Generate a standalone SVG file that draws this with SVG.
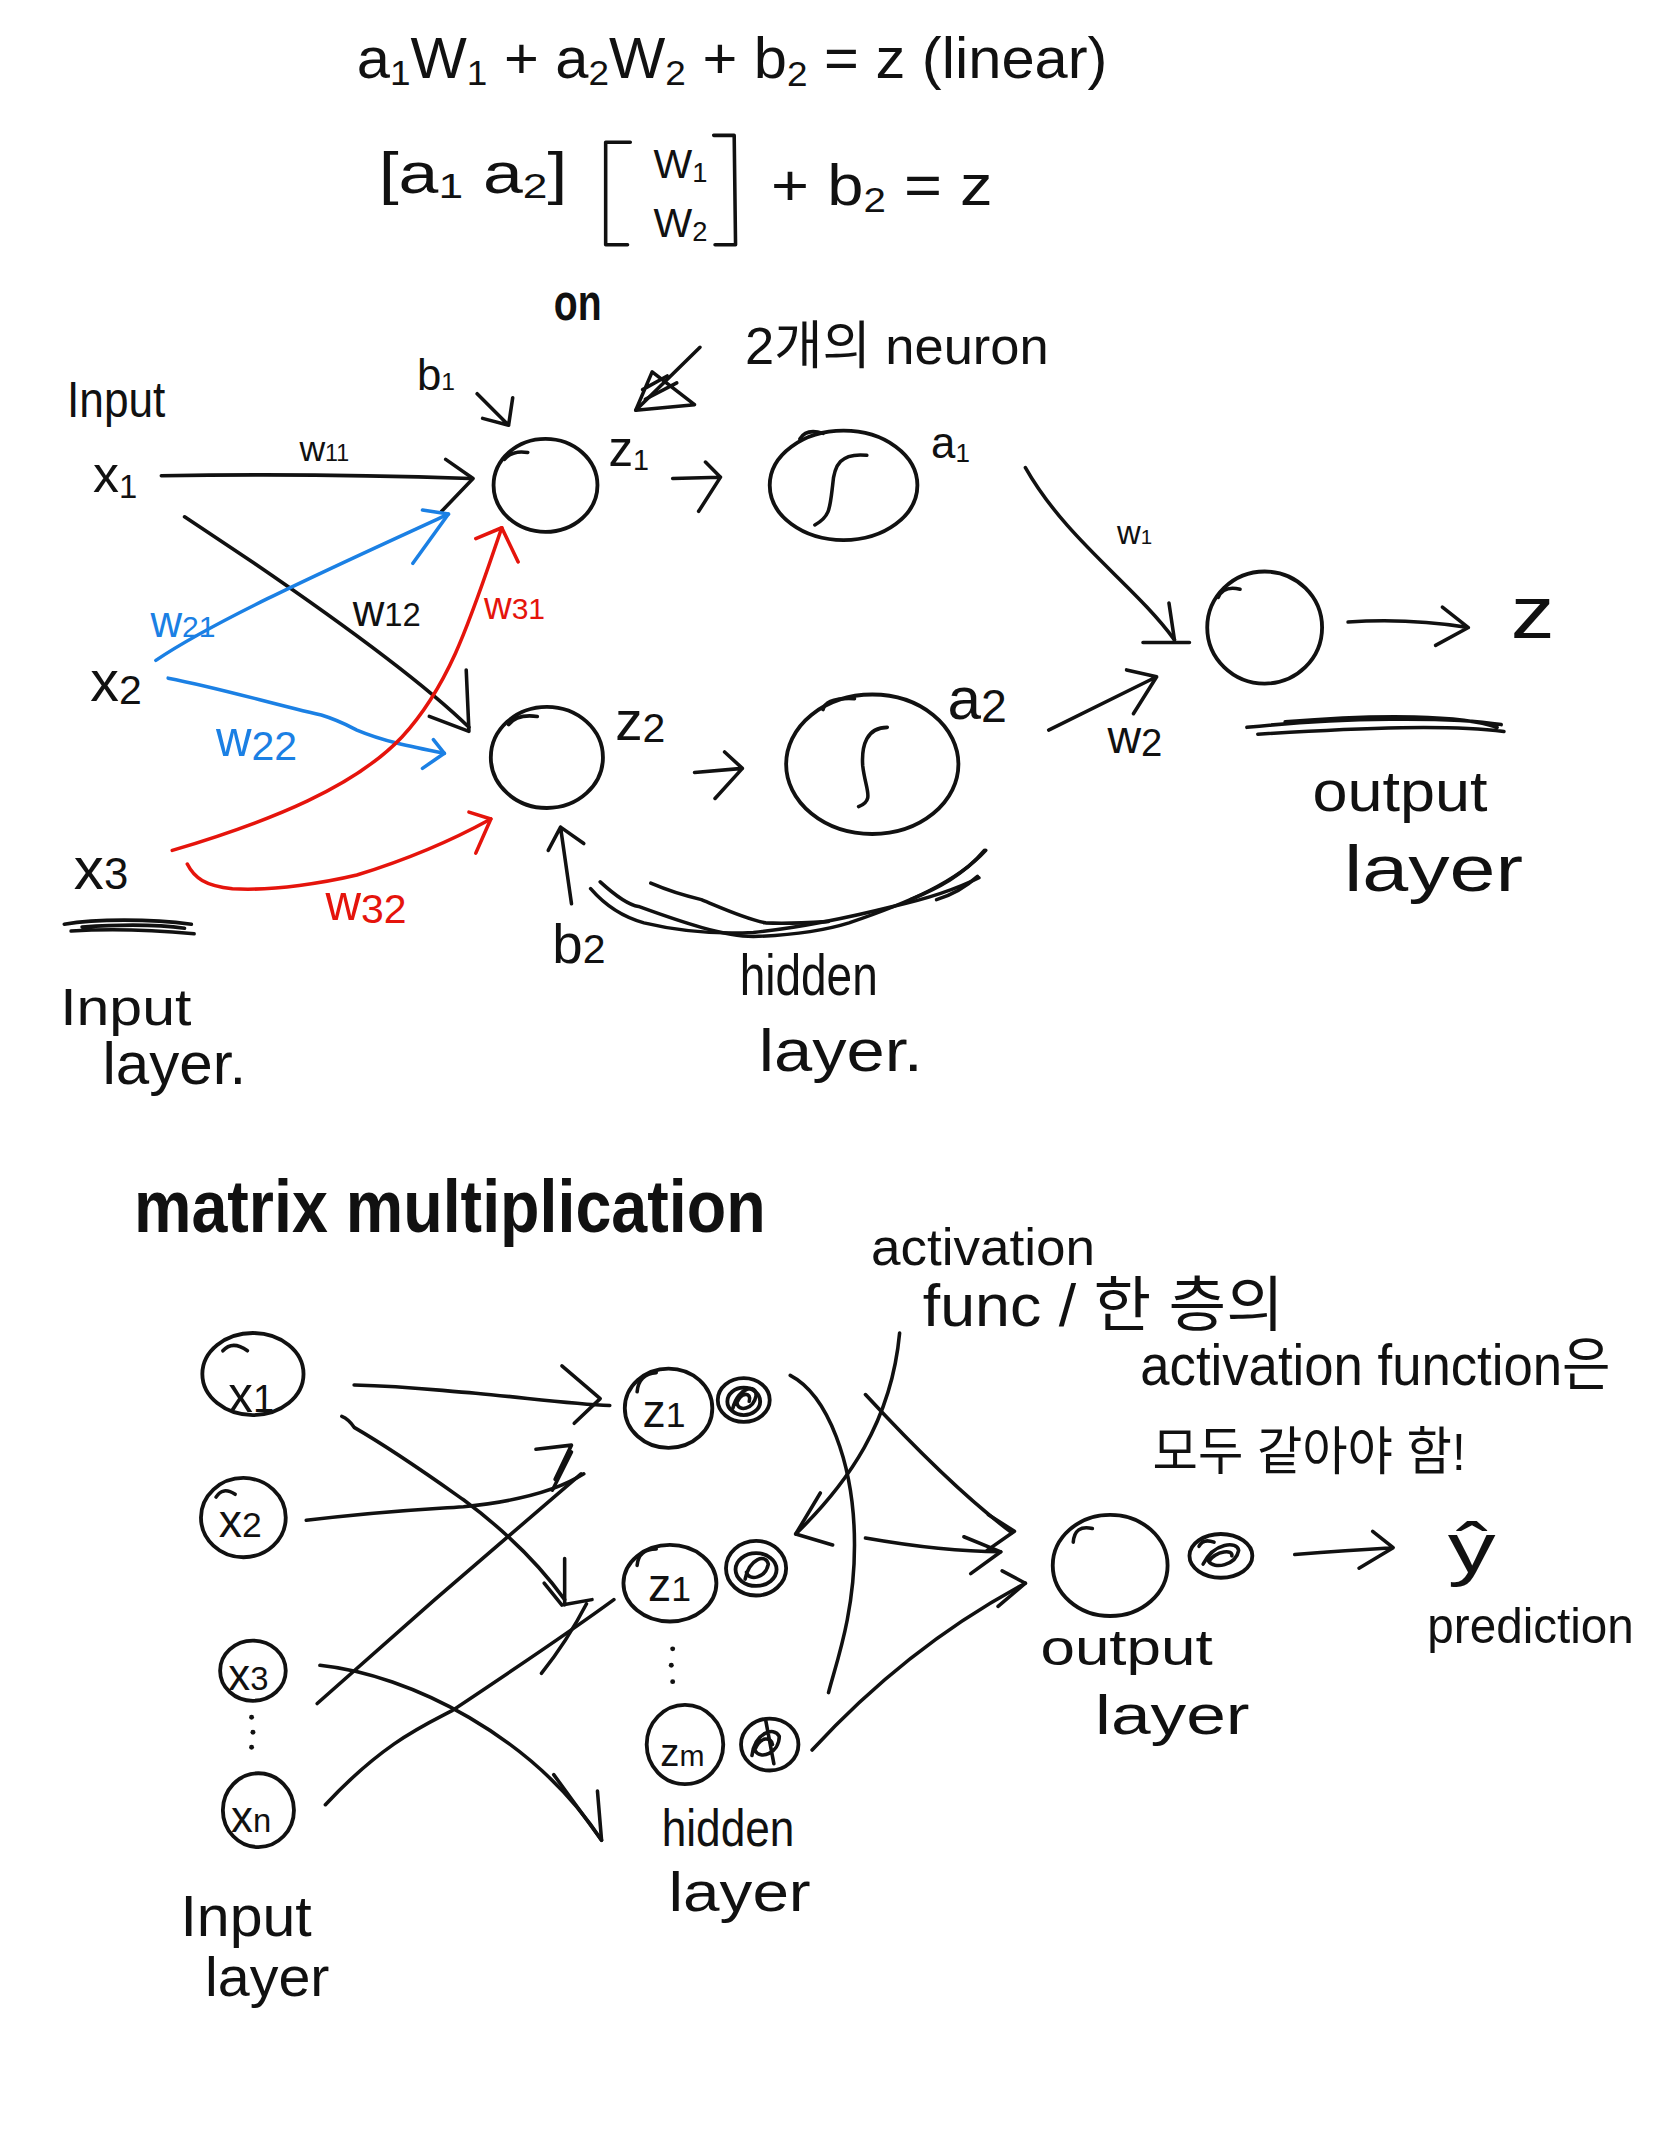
<svg xmlns="http://www.w3.org/2000/svg" width="1668" height="2154" viewBox="0 0 1668 2154">
<style>
.t{font-family:"Liberation Sans","Noto Sans CJK KR",sans-serif;fill:#111}
.blue{fill:#1b80e4}
.red{fill:#e5140c}
.bd{font-weight:bold}
.ln{fill:none;stroke:#111;stroke-width:2.6;stroke-linecap:round;stroke-linejoin:round}
.lb{fill:none;stroke:#1b80e4;stroke-width:2.6;stroke-linecap:round;stroke-linejoin:round}
.lr{fill:none;stroke:#e5140c;stroke-width:2.6;stroke-linecap:round;stroke-linejoin:round}
.nd{fill:none;stroke:#111;stroke-width:2.8;stroke-linecap:round}
.dot{fill:#111}
</style>
<rect width="1668" height="2154" fill="#ffffff"/>
<g transform="scale(1.3672)">

<!-- equations -->
<g id="equations">
<text class="t" x="261" y="57" font-size="42" textLength="549" lengthAdjust="spacingAndGlyphs">a<tspan font-size="26" dy="5">1</tspan><tspan dy="-5">W</tspan><tspan font-size="26" dy="5">1</tspan><tspan dy="-5"> + a</tspan><tspan font-size="26" dy="5">2</tspan><tspan dy="-5">W</tspan><tspan font-size="26" dy="5">2</tspan><tspan dy="-5"> + b</tspan><tspan font-size="26" dy="6">2</tspan><tspan dy="-6"> = z  (linear)</tspan></text>
<text class="t" x="277" y="141" font-size="42" textLength="138" lengthAdjust="spacingAndGlyphs">[a<tspan font-size="26" dy="4">1</tspan><tspan dy="-4"> a</tspan><tspan font-size="26" dy="4">2</tspan><tspan dy="-4">]</tspan></text>
<path class="ln" d="M461,104 L443,104 L443,179 L459,179"/>
<path class="ln" d="M522,99 L537,99 L538,179 L523,179"/>
<text class="t" x="478" y="130" font-size="30">W<tspan font-size="20" dy="3">1</tspan></text>
<text class="t" x="478" y="173" font-size="30">W<tspan font-size="20" dy="3">2</tspan></text>
<text class="t" x="564" y="150" font-size="42" textLength="162" lengthAdjust="spacingAndGlyphs">+ b<tspan font-size="26" dy="5">2</tspan><tspan dy="-5">  =  z</tspan></text>
<text class="t bd" x="405" y="234" font-size="38" textLength="35" lengthAdjust="spacingAndGlyphs">on</text>
<text class="t" x="545" y="266" font-size="38" textLength="222" lengthAdjust="spacingAndGlyphs">2개의 neuron</text>
</g>

<!-- top network connectors -->
<g id="connectors-top">
<path class="ln" d="M512,254 L465,300"/>
<path class="ln" d="M465,300 L508,296 L477,272 Z M472,292 L495,280 M470,285 L488,275"/>
<path class="ln" d="M118,348 Q230,346 344,350"/>
<path class="ln" d="M326,336 L346,350 L323,374"/>
<path class="ln" d="M349,288 L372,311 M375,291 L372,311 L353,306"/>
<path class="ln" d="M135,378 L186,412 Q300,490 343,532"/>
<path class="ln" d="M341,490 L343,535 L314,524"/>
<path class="lb" d="M114,483 C160,452 250,412 328,376"/>
<path class="lb" d="M302,412 L328,376 L309,373"/>
<path class="lb" d="M123,496 C160,503 196,514 235,523 C248,527 255,531 261,534 C280,542 300,546 325,551"/>
<path class="lb" d="M317,541 L325,551 L309,562"/>
<path class="lr" d="M126,622 C200,600 260,575 294,539 C330,500 345,450 367,386"/>
<path class="lr" d="M348,394 L367,386 L379,411"/>
<path class="lr" d="M137,632 C142,642 150,648 170,650 C200,652 240,645 261,640 C300,628 330,615 359,599"/>
<path class="lr" d="M343,594 L359,599 L348,624"/>
<path class="ln" d="M492,350 L527,349 M516,338 L527,349 L511,374"/>
<path class="ln" d="M508,565 L543,562 M530,550 L543,562 L523,584"/>
<path class="ln" d="M750,342 C780,395 830,428 859,468"/>
<path class="ln" d="M855,441 L859,468 M836,470 L870,470"/>
<path class="ln" d="M767,534 L846,495 M824,490 L846,495 L829,522"/>
<path class="ln" d="M986,455 Q1030,452 1074,459 M1055,444 L1074,459 L1050,472"/>
<path class="ln" d="M418,661 L410,605 M401,622 L410,605 L427,617"/>
<path class="ln" d="M439,645 C450,655 460,662 467,663 C500,675 530,685 551,685 C580,684 605,680 621,675 C665,660 700,645 721,622"/>
<path class="ln" d="M432,650 C445,665 460,672 471,675 C500,682 530,683 551,682 C590,678 625,670 653,663 C680,657 700,650 716,642"/>
<path class="ln" d="M476,646 C490,652 500,655 513,658 C530,665 545,672 560,675 C575,676 590,675 606,674"/>
<path class="ln" d="M720,622 C705,640 685,650 666,658 M715,641 C705,650 695,655 685,658"/>
<path class="ln" d="M47,676 C70,672 110,672 140,676 M52,681 C80,679 110,680 142,683 M60,678 C90,676 115,676 135,679"/>
<path class="ln" d="M912,532 C980,525 1060,524 1098,530 M920,537 C1000,532 1060,530 1100,535 M940,528 C1010,522 1070,523 1095,532"/>
</g>

<!-- top nodes -->
<g id="node-z1"><ellipse class="nd" cx="399" cy="355" rx="38" ry="34"/><path class="ln" d="M369,336 Q375,329 386,331"/></g>
<g id="node-z2"><ellipse class="nd" cx="400" cy="554" rx="41" ry="37"/><path class="ln" d="M372,530 Q378,522 393,524"/></g>
<g id="node-a1"><ellipse class="nd" cx="617" cy="355" rx="54" ry="40"/><path class="ln" d="M634,333 C615,331 610,340 609,355 C607,372 607,378 596,384"/><path class="ln" d="M585,321 Q590,313 602,317"/></g>
<g id="node-a2"><ellipse class="nd" cx="638" cy="559" rx="63" ry="51"/><path class="ln" d="M649,532 C634,532 630,545 631,560 C633,578 640,585 628,590"/><path class="ln" d="M602,519 Q604,510 625,511"/></g>
<g id="node-out"><ellipse class="nd" cx="925" cy="459" rx="42" ry="41"/><path class="ln" d="M891,437 Q895,428 907,431"/></g>

<!-- top labels -->
<g id="labels-top">
<text class="t" x="49" y="305" font-size="36" textLength="72" lengthAdjust="spacingAndGlyphs">Input</text>
<text class="t" x="68" y="360" font-size="38">x<tspan font-size="24" dy="4">1</tspan></text>
<text class="t" x="219" y="337" font-size="26">w<tspan font-size="17">11</tspan></text>
<text class="t" x="305" y="285" font-size="32">b<tspan font-size="18">1</tspan></text>
<text class="t" x="445" y="341" font-size="36">z<tspan font-size="21" dy="3">1</tspan></text>
<text class="t" x="681" y="335" font-size="32">a<tspan font-size="19" dy="3">1</tspan></text>
<text class="t" x="817" y="398" font-size="24">w<tspan font-size="15">1</tspan></text>
<text class="t" x="1105" y="467" font-size="54" textLength="32" lengthAdjust="spacingAndGlyphs">z</text>
<text class="t" x="960" y="593" font-size="42" textLength="128" lengthAdjust="spacingAndGlyphs">output</text>
<text class="t" x="983" y="652" font-size="48" textLength="131" lengthAdjust="spacingAndGlyphs">layer</text>
<text class="t" x="258" y="458" font-size="32">w<tspan font-size="24">12</tspan></text>
<text class="t" x="66" y="513" font-size="42">x<tspan font-size="30" dy="2">2</tspan></text>
<text class="t blue" x="110" y="466" font-size="32">w<tspan font-size="22">21</tspan></text>
<text class="t blue" x="158" y="553" font-size="36">w<tspan font-size="30" dy="3">22</tspan></text>
<text class="t red" x="354" y="453" font-size="28">w<tspan font-size="22">31</tspan></text>
<text class="t red" x="238" y="673" font-size="36">w<tspan font-size="30" dy="2">32</tspan></text>
<text class="t" x="54" y="650" font-size="44">x<tspan font-size="32">3</tspan></text>
<text class="t" x="44" y="750" font-size="38" textLength="96" lengthAdjust="spacingAndGlyphs">Input</text>
<text class="t" x="75" y="793" font-size="44" textLength="105" lengthAdjust="spacingAndGlyphs">layer.</text>
<text class="t" x="450" y="541" font-size="40">z<tspan font-size="30" dy="2">2</tspan></text>
<text class="t" x="693" y="526" font-size="44">a<tspan font-size="34" dy="2">2</tspan></text>
<text class="t" x="810" y="551" font-size="34">w<tspan font-size="28" dy="2">2</tspan></text>
<text class="t" x="404" y="704" font-size="40">b<tspan font-size="30">2</tspan></text>
<text class="t" x="541" y="728" font-size="42" textLength="101" lengthAdjust="spacingAndGlyphs">hidden</text>
<text class="t" x="555" y="783" font-size="44" textLength="120" lengthAdjust="spacingAndGlyphs">layer.</text>
</g>

<!-- bottom section -->
<g id="labels-bottom">
<text class="t bd" x="98" y="901" font-size="54" textLength="462" lengthAdjust="spacingAndGlyphs">matrix  multiplication</text>
<text class="t" x="637" y="925" font-size="38" textLength="164" lengthAdjust="spacingAndGlyphs">activation</text>
<text class="t" x="675" y="970" font-size="44" textLength="264" lengthAdjust="spacingAndGlyphs">func / 한 층의</text>
<text class="t" x="834" y="1013" font-size="42" textLength="344" lengthAdjust="spacingAndGlyphs">activation  function은</text>
<text class="t" x="843" y="1075" font-size="38" textLength="229" lengthAdjust="spacingAndGlyphs">모두 같아야 함!</text>
<text class="t" x="132" y="1416" font-size="42" textLength="96" lengthAdjust="spacingAndGlyphs">Input</text>
<text class="t" x="150" y="1460" font-size="40" textLength="91" lengthAdjust="spacingAndGlyphs">layer</text>
<text class="t" x="484" y="1350" font-size="38" textLength="97" lengthAdjust="spacingAndGlyphs">hidden</text>
<text class="t" x="489" y="1398" font-size="40" textLength="104" lengthAdjust="spacingAndGlyphs">layer</text>
<text class="t" x="761" y="1218" font-size="36" textLength="126" lengthAdjust="spacingAndGlyphs">output</text>
<text class="t" x="801" y="1268" font-size="40" textLength="113" lengthAdjust="spacingAndGlyphs">layer</text>
<text class="t" x="1059" y="1150" font-size="52" textLength="35" lengthAdjust="spacingAndGlyphs">ŷ</text>
<text class="t" x="1044" y="1202" font-size="36" textLength="151" lengthAdjust="spacingAndGlyphs">prediction</text>
</g>

<g id="connectors-bottom">
<path class="ln" d="M259,1013 C300,1014 320,1017 348,1019 C390,1023 420,1027 446,1028"/>
<path class="ln" d="M411,999 L439,1023 L420,1041"/>
<path class="ln" d="M250,1036 C255,1038 257,1041 259,1044 C290,1062 315,1080 339,1097 C370,1120 395,1145 413,1170"/>
<path class="ln" d="M413,1140 L413,1174 M398,1158 L411,1174 L433,1170"/>
<path class="ln" d="M224,1112 C280,1105 310,1104 339,1102 C370,1099 405,1092 427,1078"/>
<path class="ln" d="M232,1246 L318,1170 Q370,1125 425,1078"/>
<path class="ln" d="M392,1060 L418,1057 L406,1082 M418,1062 L404,1090"/>
<path class="ln" d="M238,1320 C280,1275 310,1262 331,1251 C370,1225 415,1195 449,1170"/>
<path class="ln" d="M396,1224 Q415,1200 429,1173"/>
<path class="ln" d="M234,1218 C300,1225 390,1270 440,1346"/>
<path class="ln" d="M405,1298 L440,1346 L437,1310"/>
<path class="ln" d="M658,975 C652,1040 620,1085 582,1122"/>
<path class="ln" d="M600,1092 L582,1122 L609,1130"/>
<path class="ln" d="M578,1006 C605,1020 625,1070 625,1130 C625,1180 612,1215 606,1238"/>
<path class="ln" d="M633,1020 C670,1060 705,1095 740,1121"/>
<path class="ln" d="M723,1108 L742,1120 L722,1134"/>
<path class="ln" d="M633,1125 Q690,1135 732,1135"/>
<path class="ln" d="M705,1124 L732,1135 L710,1151"/>
<path class="ln" d="M594,1280 C640,1230 690,1190 750,1158"/>
<path class="ln" d="M733,1149 L750,1158 L730,1175"/>
<path class="ln" d="M947,1137 Q985,1134 1019,1132 M1004,1120 L1019,1132 L994,1147"/>
</g>

<g id="node-bx1"><ellipse class="nd" cx="185" cy="1005" rx="37" ry="30"/><path class="ln" d="M163,988 Q170,980 181,988"/><text class="t" x="167" y="1033" font-size="36">x<tspan font-size="28">1</tspan></text></g>
<g id="node-bx2"><ellipse class="nd" cx="178" cy="1110" rx="31" ry="29"/><path class="ln" d="M158,1095 Q163,1087 172,1093"/><text class="t" x="160" y="1124" font-size="34">x<tspan font-size="26">2</tspan></text></g>
<g id="node-bx3"><ellipse class="nd" cx="185" cy="1222" rx="24" ry="22"/><text class="t" x="167" y="1236" font-size="32">x<tspan font-size="24">3</tspan></text></g>
<g id="node-bxn"><ellipse class="nd" cx="189" cy="1324" rx="26" ry="27"/><text class="t" x="169" y="1340" font-size="32">x<tspan font-size="24">n</tspan></text></g>
<g id="dots-in"><circle class="dot" cx="184" cy="1256" r="1.8"/><circle class="dot" cx="185" cy="1267" r="1.8"/><circle class="dot" cx="184" cy="1278" r="1.8"/></g>

<g id="node-h1"><ellipse class="nd" cx="489" cy="1030" rx="32" ry="29"/><path class="ln" d="M466,1018 Q467,1005 480,1004"/><text class="t" x="470" y="1044" font-size="34">z<tspan font-size="26">1</tspan></text>
<ellipse class="nd" cx="544" cy="1024" rx="19" ry="16"/><ellipse class="nd" cx="544" cy="1025" rx="12" ry="10"/><path class="ln" d="M536,1030 C540,1014 554,1012 553,1021 C551,1031 540,1033 539,1026 C542,1018 550,1018 548,1025"/></g>
<g id="node-h2"><ellipse class="nd" cx="490" cy="1158" rx="34" ry="28"/><path class="ln" d="M466,1145 Q467,1133 480,1133"/><text class="t" x="474" y="1171" font-size="34">z<tspan font-size="26">1</tspan></text>
<ellipse class="nd" cx="553" cy="1147" rx="22" ry="20"/><ellipse class="nd" cx="553" cy="1148" rx="15" ry="12"/><path class="ln" d="M545,1155 C548,1140 560,1136 562,1144 C560,1154 548,1157 546,1150"/></g>
<g id="dots-hid"><circle class="dot" cx="492" cy="1206" r="1.8"/><circle class="dot" cx="491" cy="1218" r="1.8"/><circle class="dot" cx="492" cy="1230" r="1.8"/></g>
<g id="node-hm"><ellipse class="nd" cx="501" cy="1276" rx="28" ry="29"/><text class="t" x="483" y="1292" font-size="28">z<tspan font-size="22">m</tspan></text>
<ellipse class="nd" cx="563" cy="1276" rx="21" ry="19"/><path class="ln" d="M550,1284 C552,1268 566,1262 570,1270 C570,1282 556,1288 552,1280 C556,1270 564,1270 565,1276 M560,1258 L566,1290"/></g>
<g id="node-bout"><ellipse class="nd" cx="812" cy="1145" rx="42" ry="37"/><path class="ln" d="M785,1128 Q786,1115 799,1118"/>
<ellipse class="nd" cx="893" cy="1138" rx="23" ry="16"/><path class="ln" d="M880,1144 C888,1128 905,1127 906,1134 C904,1145 888,1148 884,1142 C890,1134 902,1133 901,1138 M877,1131 Q880,1125 888,1128"/></g>

</g>
</svg>
